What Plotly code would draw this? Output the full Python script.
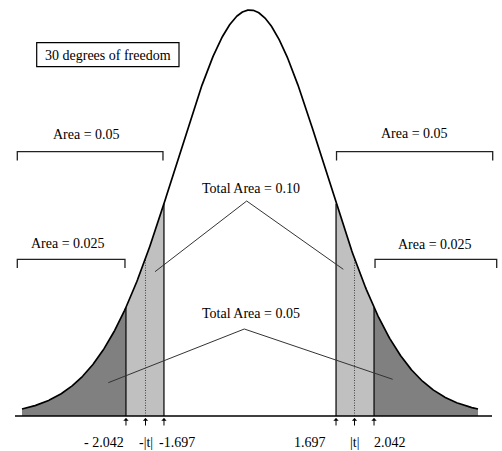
import math
import numpy as np
import plotly.graph_objects as go

# ---------------- data ----------------
dof = 30
crit_labels_left = ["- 2.042", "-|t|", "-1.697"]
crit_labels_right = ["1.697", "|t|", "2.042"]
# schematic drawing positions of the marks (in curve standard units) for 1.697, |t|, 2.042
sketch_pos = [1.132, 1.375, 1.632]
box_text = "30 degrees of freedom"
bracket_labels = ["Area = 0.05", "Area = 0.025"]
total_labels = ["Total Area = 0.10", "Total Area = 0.05"]


def t_pdf(x, nu):
    c = math.gamma((nu + 1) / 2) / (math.sqrt(nu * math.pi) * math.gamma(nu / 2))
    return c * (1 + np.asarray(x) ** 2 / nu) ** (-(nu + 1) / 2)


# ---------------- layout helpers (pixel -> axis units) ----------------
W, H = 502, 451
PX_PER_UNIT = 76.0
CX = 250.0      # pixel x of curve centre
BASE = 416.0    # pixel y of baseline
PEAK = 10.0     # pixel y of curve peak
p0 = float(t_pdf(0.0, dof))


def X(px):
    return (px - CX) / PX_PER_UNIT


def Y(py):
    return (BASE - py) * p0 / (BASE - PEAK)


PLOT_BOTTOM = 420.0


def PY(py):  # paper y
    return (PLOT_BOTTOM - py) / PLOT_BOTTOM


FONT = dict(family="Liberation Serif, Times New Roman, serif", size=14, color="black")

p1, pt, p2 = sketch_pos
fig = go.Figure()

# tails and inner bands
def add_fill(a, b, color):
    xs = np.linspace(a, b, 200)
    fig.add_trace(go.Scatter(x=xs, y=t_pdf(xs, dof), mode="lines", line=dict(width=0),
                             fill="tozeroy", fillcolor=color, hoverinfo="skip"))

add_fill(-3.0, -p2, "#808080")
add_fill(-p2, -p1, "#c0c0c0")
add_fill(p1, p2, "#c0c0c0")
add_fill(p2, 3.0, "#808080")

# vertical edges
for p in [-p2, -p1, p1, p2]:
    fig.add_trace(go.Scatter(x=[p, p], y=[0, float(t_pdf(p, dof))], mode="lines",
                             line=dict(color="black", width=1.2), hoverinfo="skip"))
for p in [-pt, pt]:
    fig.add_trace(go.Scatter(x=[p, p], y=[0, float(t_pdf(p, dof))], mode="lines",
                             line=dict(color="#444444", width=1, dash="1px,1.5px"), hoverinfo="skip"))

# density curve
xc = np.linspace(-3.0, 3.0, 601)
fig.add_trace(go.Scatter(x=xc, y=t_pdf(xc, dof), mode="lines",
                         line=dict(color="black", width=1.7), hoverinfo="skip"))

shapes = []
annotations = []

# baseline
shapes.append(dict(type="line", xref="paper", yref="y", x0=15 / W, x1=492 / W, y0=0, y1=0,
                   line=dict(color="black", width=1.3)))

# brackets
def bracket(x0, x1, ytop, ytick):
    shapes.append(dict(type="path", xref="x", yref="y",
                       path=f"M {X(x0)},{Y(ytick)} L {X(x0)},{Y(ytop)} L {X(x1)},{Y(ytop)} L {X(x1)},{Y(ytick)}",
                       line=dict(color="#222222", width=1.3)))

bracket(17.3, CX - p1 * PX_PER_UNIT - 1, 151.7, 160.5)
bracket(CX + p1 * PX_PER_UNIT + 0.5, 492.7, 151.7, 160.5)
bracket(17.3, CX - p2 * PX_PER_UNIT - 1, 259.3, 268)
bracket(CX + p2 * PX_PER_UNIT + 1, 496.7, 259.3, 268)

def text(px, py, s, xanchor="center"):
    annotations.append(dict(x=X(px), y=Y(py), xref="x", yref="y", text=s, showarrow=False,
                            xanchor=xanchor, yanchor="middle", font=FONT))

text(86, 134.5, bracket_labels[0])
text(414, 133, bracket_labels[0])
text(68, 243, bracket_labels[1])
text(435, 244, bracket_labels[1])
text(251, 188, total_labels[0])
text(251, 313, total_labels[1])

# pointer lines
def pointer(apex, left, right):
    shapes.append(dict(type="path", xref="x", yref="y",
                       path=f"M {X(left[0])},{Y(left[1])} L {X(apex[0])},{Y(apex[1])} L {X(right[0])},{Y(right[1])}",
                       line=dict(color="#333333", width=1)))

pointer((246.7, 201), (155, 271.7), (343.3, 269.3))
pointer((244.3, 329), (108.3, 382.7), (392.7, 379.3))

# degrees of freedom box
shapes.append(dict(type="rect", xref="x", yref="y", x0=X(36.7), x1=X(179), y0=Y(42.7), y1=Y(66.7),
                   line=dict(color="black", width=1.2), fillcolor="white"))
text(108, 55, box_text)

# arrows and critical value labels under the axis
positions = [-p2, -pt, -p1, p1, pt, p2]
labels = crit_labels_left + crit_labels_right
anchors = ["right", "center", "left", "right", "center", "left"]
shifts = [0, 0, -7, -8, 0, -2]
for x, lab, anc, sh in zip(positions, labels, anchors, shifts):
    annotations.append(dict(x=x, y=PY(418), xref="x", yref="paper", text="", showarrow=True,
                            ax=0, ay=9, axref="pixel", ayref="pixel", arrowhead=1, arrowsize=0.9,
                            arrowwidth=1, arrowcolor="black"))
    annotations.append(dict(x=x, y=PY(442), xref="x", yref="paper", text=lab, showarrow=False,
                            xanchor=anc, yanchor="middle", xshift=sh, font=FONT))

fig.update_layout(
    width=W, height=H,
    margin=dict(l=0, r=0, t=0, b=H - PLOT_BOTTOM),
    paper_bgcolor="white", plot_bgcolor="white",
    showlegend=False,
    xaxis=dict(range=[X(0), X(W)], visible=False, fixedrange=True),
    yaxis=dict(range=[Y(PLOT_BOTTOM), Y(0)], visible=False, fixedrange=True),
    shapes=shapes, annotations=annotations,
)

fig.write_html("out.html", config={"displayModeBar": False},
               post_script="document.body.style.margin='0';")
